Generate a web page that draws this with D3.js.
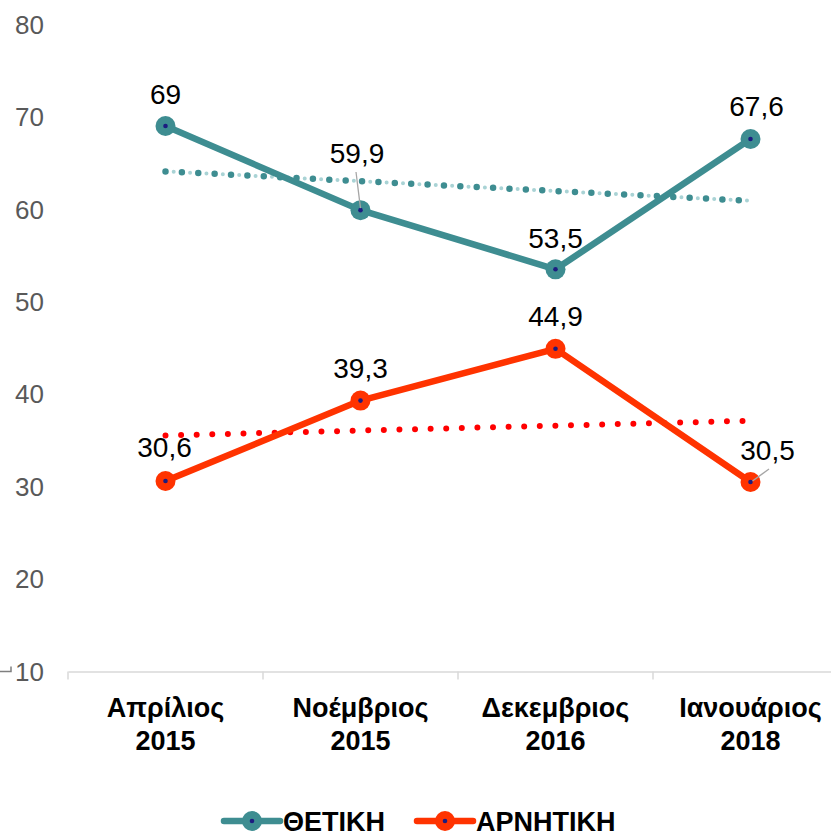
<!DOCTYPE html>
<html>
<head>
<meta charset="utf-8">
<script src="https://cdn.jsdelivr.net/npm/d3@7"></script>
<style>
body { margin: 0; background: #fff; }
text { font-family: "Liberation Sans", Arial, sans-serif; }
</style>
</head>
<body>
<div id="chart"></div>
<script>
// data
var months = ["Απρίλιος 2015", "Νοέμβριος 2015", "Δεκεμβριος 2016", "Ιανουάριος 2018"];
var positive = [69, 59.9, 53.5, 67.6];
var negative = [30.6, 39.3, 44.9, 30.5];
var posLabels = ["69", "59,9", "53,5", "67,6"];
var negLabels = ["30,6", "39,3", "44,9", "30,5"];
var yTicks = [10, 20, 30, 40, 50, 60, 70, 80];
var seriesNames = ["ΘΕΤΙΚΗ", "ΑΡΝΗΤΙΚΗ"];

var W = 831, H = 837;
var teal = "#3e8d91", red = "#ff3300", dotC = "#1c1c80";

var svg = d3.select("#chart").append("svg")
    .attr("width", W).attr("height", H);

// scales
var x = d3.scaleBand().domain(months).range([68, 848]);
var xc = function(i) { return x(months[i]) + x.bandwidth() / 2; };
var y = d3.scaleLinear().domain([10, 80]).range([671.5, 24.3]);

// y labels (no axis line)
svg.append("g").selectAll("text")
    .data(yTicks).enter().append("text")
    .attr("x", 44).attr("y", function(d) { return y(d); })
    .attr("dy", "0.36em")
    .attr("text-anchor", "end")
    .style("font-size", "26px").style("fill", "#595959")
    .text(function(d) { return d; });

// small break mark next to the bottom label
svg.append("path")
    .attr("d", "M0," + y(10) + "H11V" + (y(10) - 5))
    .attr("fill", "none").attr("stroke", "#7f7f7f").attr("stroke-width", 1.5);

// x axis
var xAxis = svg.append("g")
    .attr("transform", "translate(0," + y(10) + ")")
    .call(d3.axisBottom(x).tickSize(0).tickFormat(""));
xAxis.select(".domain").attr("stroke", "#d9d9d9").attr("stroke-width", 1.5);
xAxis.selectAll(".sep").data(d3.range(months.length)).enter().append("line")
    .attr("x1", function(i) { return x(months[i]); })
    .attr("x2", function(i) { return x(months[i]); })
    .attr("y1", 0).attr("y2", 8)
    .attr("stroke", "#d9d9d9").attr("stroke-width", 1.5);

months.forEach(function(m, i) {
  var parts = m.split(" ");
  var t = svg.append("text")
      .attr("x", xc(i)).attr("text-anchor", "middle")
      .style("font-size", "27px").style("font-weight", "bold").style("fill", "#000");
  t.append("tspan").attr("x", xc(i)).attr("y", 717).text(parts[0]);
  t.append("tspan").attr("x", xc(i)).attr("y", 750).text(parts[1]);
});

// linear trend
function trend(vals) {
  var n = vals.length, mx = d3.mean(d3.range(n)), my = d3.mean(vals);
  var num = d3.sum(vals, function(v, i) { return (i - mx) * (v - my); });
  var den = d3.sum(d3.range(n), function(i) { return (i - mx) * (i - mx); });
  var b = num / den, a = my - b * mx;
  return [[0, a], [n - 1, a + b * (n - 1)]];
}
var tl = d3.line().x(function(d) { return xc(d[0]); }).y(function(d) { return y(d[1]); });

var tPos = trend(positive), tNeg = trend(negative);
svg.append("path").attr("d", tl(tPos))
    .attr("stroke", "#a9d3d5").attr("stroke-width", 4).attr("fill", "none")
    .attr("stroke-linecap", "round").attr("stroke-dasharray", "0,16.4")
    .attr("stroke-dashoffset", -8.2);
svg.append("path").attr("d", tl(tPos))
    .attr("stroke", teal).attr("stroke-width", 6.5).attr("fill", "none")
    .attr("stroke-linecap", "round").attr("stroke-dasharray", "0,16.4");
svg.append("path").attr("d", tl(tNeg))
    .attr("stroke", "#ff0000").attr("stroke-width", 6).attr("fill", "none")
    .attr("stroke-linecap", "round").attr("stroke-dasharray", "0,15.6");

// series lines
var line = d3.line().x(function(d, i) { return xc(i); }).y(function(d) { return y(d); });

function drawSeries(vals, color) {
  svg.append("path").datum(vals).attr("d", line)
      .attr("fill", "none").attr("stroke", color).attr("stroke-width", 6.5)
      .attr("stroke-linejoin", "round");
  var g = svg.append("g");
  g.selectAll("circle.m").data(vals).enter().append("circle")
      .attr("cx", function(d, i) { return xc(i); }).attr("cy", function(d) { return y(d); })
      .attr("r", 10).attr("fill", color);
  g.selectAll("circle.c").data(vals).enter().append("circle")
      .attr("cx", function(d, i) { return xc(i); }).attr("cy", function(d) { return y(d); })
      .attr("r", 2.3).attr("fill", dotC);
}
drawSeries(positive, teal);
drawSeries(negative, red);

// leader lines
svg.append("line").attr("x1", 356).attr("y1", 172).attr("x2", xc(1)).attr("y2", y(positive[1]) - 2)
    .attr("stroke", "#a6a6a6").attr("stroke-width", 1.3);
svg.append("line").attr("x1", 769).attr("y1", 469).attr("x2", xc(3) + 2).attr("y2", y(negative[3]) - 1)
    .attr("stroke", "#a6a6a6").attr("stroke-width", 1.3);

// data labels (offsets in px)
var posOff = [[0, -32], [-3.5, -57], [0, -31], [6, -33]];
var negOff = [[-1, -34], [0, -33], [0, -33], [17, -32]];
function labels(vals, txt, off) {
  svg.append("g").selectAll("text").data(vals).enter().append("text")
      .attr("x", function(d, i) { return xc(i) + off[i][0]; })
      .attr("y", function(d, i) { return y(d) + off[i][1]; })
      .attr("dy", "0.36em").attr("text-anchor", "middle")
      .style("font-size", "28px").style("fill", "#000")
      .text(function(d, i) { return txt[i]; });
}
labels(positive, posLabels, posOff);
labels(negative, negLabels, negOff);

// legend
var legend = [{name: seriesNames[0], color: teal, x: 224}, {name: seriesNames[1], color: red, x: 417}];
var lg = svg.append("g").selectAll("g").data(legend).enter().append("g")
    .attr("transform", function(d) { return "translate(" + d.x + ",821)"; });
lg.append("line").attr("x1", 0).attr("x2", 56).attr("y1", 0).attr("y2", 0)
    .attr("stroke", function(d) { return d.color; }).attr("stroke-width", 6.5).attr("stroke-linecap", "round");
lg.append("circle").attr("cx", 28).attr("r", 10).attr("fill", function(d) { return d.color; });
lg.append("circle").attr("cx", 28).attr("r", 2.3).attr("fill", dotC);
lg.append("text").attr("x", 59).attr("y", 9.5)
    .style("font-size", "27px").style("font-weight", "bold").style("fill", "#000")
    .text(function(d) { return d.name; });
</script>
</body>
</html>
